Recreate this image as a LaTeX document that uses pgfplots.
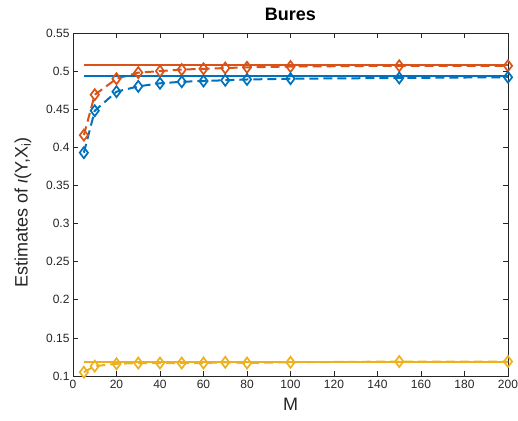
\documentclass[border=0pt]{standalone}
\usepackage{fontspec}
\setmainfont{Liberation Sans}
\usepackage{pgfplots}
\pgfplotsset{compat=1.18}
\definecolor{mblue}{rgb}{0,0.447,0.741}
\definecolor{mred}{rgb}{0.85,0.325,0.098}
\definecolor{myel}{rgb}{0.929,0.694,0.125}
\definecolor{axgray}{rgb}{0.15,0.15,0.15}
\begin{document}
\begin{tikzpicture}
\useasboundingbox (-73pt,-44pt) rectangle (445pt,376pt);
\begin{axis}[
  at={(0,0)}, anchor=south west,
  scale only axis, width=435pt, height=343pt,
  xmin=0, xmax=200, ymin=0.1, ymax=0.55,
  xtick={0,20,...,200}, ytick={0.1,0.15,...,0.55},
  yticklabels={0.1,0.15,0.2,0.25,0.3,0.35,0.4,0.45,0.5,0.55},
  tick align=inside, major tick length=5pt,
  axis line style={axgray, line width=0.6pt},
  tick style={axgray, line width=0.6pt},
  tick label style={font=\fontsize{12}{14}\selectfont, text=axgray},
  xticklabel style={yshift=-1pt},
  /pgf/number format/assume math mode=true,
  title={\textbf{Bures}},
  title style={font=\fontsize{18}{20}\selectfont, yshift=3pt},
  xlabel={M},
  ylabel={Estimates of {\itshape ι}(Y,X\textsubscript{i})},
  label style={font=\fontsize{18}{20}\selectfont, text=axgray},
  xlabel style={yshift=-2pt},
  ylabel style={yshift=8pt, xshift=-8pt},
  every axis plot/.append style={line width=2pt},
  clip=false,
]
\addplot[mred, dashed, dash pattern=on 9pt off 5pt, mark=diamond, mark size=5.5pt, mark options={solid, fill=white, line width=1.7pt}] coordinates {
(5,0.416) (10,0.469) (20,0.490) (30,0.498) (40,0.500) (50,0.502) (60,0.503) (70,0.504) (80,0.505) (100,0.506) (150,0.507) (200,0.507)};
\addplot[mblue, dashed, dash pattern=on 9pt off 5pt, mark=diamond, mark size=5.5pt, mark options={solid, fill=white, line width=1.7pt}] coordinates {
(5,0.393) (10,0.448) (20,0.473) (30,0.480) (40,0.484) (50,0.486) (60,0.487) (70,0.488) (80,0.489) (100,0.490) (150,0.491) (200,0.492)};
\addplot[myel, dashed, dash pattern=on 9pt off 5pt, mark=diamond, mark size=5.5pt, mark options={solid, fill=white, line width=1.7pt}] coordinates {
(5,0.105) (10,0.113) (20,0.116) (30,0.117) (40,0.117) (50,0.117) (60,0.117) (70,0.118) (80,0.117) (100,0.118) (150,0.119) (200,0.119)};
\addplot[mred, solid, no marks] coordinates {(5,0.508) (200,0.508)};
\addplot[mblue, solid, no marks] coordinates {(5,0.494) (200,0.494)};
\addplot[myel, solid, no marks] coordinates {(5,0.118) (200,0.118)};
\end{axis}
\end{tikzpicture}
\end{document}
